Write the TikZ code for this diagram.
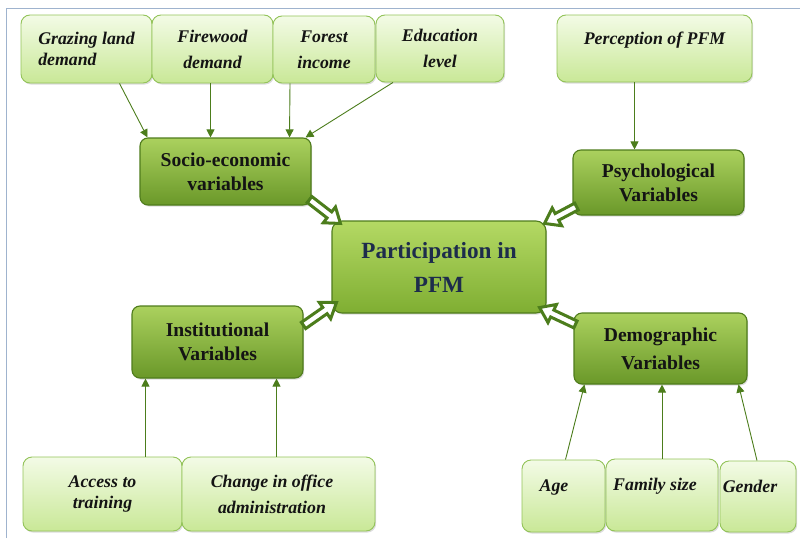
\documentclass[tikz,border=0pt]{standalone}
\usepackage{fontspec}
\setmainfont{Liberation Serif}
\usetikzlibrary{calc,shadows,arrows.meta}
\definecolor{leaftop}{HTML}{F3FBE6}
\definecolor{leafbot}{HTML}{C9E897}
\definecolor{leafline}{HTML}{93C359}
\definecolor{darktop}{HTML}{ABD15E}
\definecolor{darkbot}{HTML}{6A9829}
\definecolor{darkline}{HTML}{4F7C1C}
\definecolor{midtop}{HTML}{B4D964}
\definecolor{midbot}{HTML}{7FAE32}
\definecolor{arrowgreen}{HTML}{4C7D1C}
\definecolor{framecol}{HTML}{9FB3CE}
\definecolor{navytext}{HTML}{1D2C4C}
\newcommand\fatarrow[2]{%
  \coordinate (fa-c) at ($(#2)!14pt!(#1)$);
  \draw[hollowarrow]
    ($(#1)!3.8pt!90:(#2)$) -- ($(fa-c)!3.8pt!90:(#2)$) -- ($(fa-c)!10pt!90:(#2)$) --
    (#2) -- ($(fa-c)!10pt!-90:(#2)$) -- ($(fa-c)!3.8pt!-90:(#2)$) --
    ($(#1)!3.8pt!-90:(#2)$) -- cycle;}
\begin{document}
\begin{tikzpicture}[x=1pt,y=-1pt,
  shadowed/.style={drop shadow={shadow xshift=1.2pt, shadow yshift=-1.6pt, opacity=0.28}},
  leaf/.style={shadowed, draw=leafline, line width=0.9pt, rounded corners=9pt,
    top color=leaftop, bottom color=leafbot, inner sep=0pt, align=center,
    font=\fontsize{17.8}{21}\selectfont\bfseries\itshape, text=black!92},
  var/.style={shadowed, draw=darkline, line width=1.1pt, rounded corners=8pt,
    top color=darktop, bottom color=darkbot, inner sep=0pt, align=center,
    font=\fontsize{19.6}{24}\selectfont\bfseries, text=black!92},
  core/.style={shadowed, draw=darkline, line width=1.1pt, rounded corners=10pt,
    top color=midtop, bottom color=midbot, inner sep=0pt, align=center,
    font=\fontsize{23.2}{34}\selectfont\bfseries, text=navytext},
  thin/.style={draw=arrowgreen, line width=0.9pt, -{Triangle[length=8pt,width=8pt]}},
  hollowarrow/.style={draw=arrowgreen, line width=3pt, fill=white, line join=miter}
]
\useasboundingbox (0,0) rectangle (800,538);
\draw[framecol, line width=1pt] (6,538) -- (6,8) -- (800,8);

% top row
\node[leaf, minimum width=131pt, minimum height=68pt, align=left] (graz) at (86.5,49) {Grazing land\\demand};
\node[leaf, minimum width=121pt, minimum height=68pt] (fire) at (212.5,49) {Firewood\\[5pt]demand};
\node[leaf, minimum width=102pt, minimum height=67pt] (forest) at (324,49.5) {Forest\\[5pt]income};
\node[leaf, minimum width=128pt, minimum height=67pt] (edu) at (440,48.5) {Education\\[5pt]level};
\node[leaf, minimum width=195pt, minimum height=67pt] (perc) at (654.5,48.5) {Perception of PFM\\\mbox{}};

% variable boxes
\node[var, minimum width=171pt, minimum height=67pt] (socio) at (225.5,171.5) {Socio-economic\\variables};
\node[var, minimum width=171pt, minimum height=65pt] (psych) at (658.5,182.5) {Psychological\\Variables};
\node[core, minimum width=214pt, minimum height=92pt] (part) at (439,267) {Participation in\\PFM};
\node[var, minimum width=171pt, minimum height=72pt] (inst) at (217.5,342) {Institutional\\Variables};
\node[var, minimum width=173pt, minimum height=71pt] (demo) at (660.5,348.5) {Demographic\\[4pt]Variables};

% bottom row
\node[leaf, minimum width=159pt, minimum height=74pt] (access) at (102.5,494) {Access to\\training};
\node[leaf, minimum width=193pt, minimum height=74pt] (change) at (278.5,494) {Change in office\hspace*{13pt}\\[5pt]administration\hspace*{13pt}};
\node[leaf, minimum width=83pt, minimum height=72pt] (age) at (563.5,496) {Age\hspace*{19pt}\\\mbox{}};
\node[leaf, minimum width=112pt, minimum height=72pt] (family) at (662,495) {Family size\hspace*{14pt}\\\mbox{}};
\node[leaf, minimum width=76pt, minimum height=71pt] (gender) at (758,496.5) {Gender\hspace*{16pt}\\\mbox{}};

% thin connectors
\draw[thin] ([xshift=33pt]graz.south) -- ([xshift=-78pt]socio.north);
\draw[thin] ([xshift=-2pt]fire.south) -- ([xshift=-15pt]socio.north);
\draw[thin] ([xshift=-34pt]forest.south) -- ([xshift=64pt]socio.north);
\draw[thin] ([xshift=-47pt]edu.south) -- ([xshift=80pt]socio.north);
\draw[thin] ([xshift=-20pt]perc.south) -- ([xshift=-24pt]psych.north);
\draw[thin] ([xshift=43pt]access.north) -- ([xshift=-72pt]inst.south);
\draw[thin] ([xshift=-2pt]change.north) -- ([xshift=59pt]inst.south);
\draw[thin] ([xshift=2pt]age.north) -- ([xshift=-76pt]demo.south);
\draw[thin] (family.north) -- ([xshift=1.5pt]demo.south);
\draw[thin] ([xshift=-1pt]gender.north) -- ([xshift=78pt]demo.south);

% hollow block arrows
\coordinate (s1) at ([shift={(-2pt,6pt)}]socio.south east);
\coordinate (e1) at ([shift={(9pt,-3pt)}]part.north west);
\fatarrow{s1}{e1}
\coordinate (s2) at ([shift={(4pt,9pt)}]psych.south west);
\coordinate (e2) at ([shift={(-2pt,-3pt)}]part.north east);
\fatarrow{s2}{e2}
\coordinate (s3) at ([shift={(0pt,-20pt)}]inst.north east);
\coordinate (e3) at ([shift={(5pt,11pt)}]part.south west);
\fatarrow{s3}{e3}
\coordinate (s4) at ([shift={(2pt,-12pt)}]demo.north west);
\coordinate (e4) at ([shift={(-7pt,6pt)}]part.south east);
\fatarrow{s4}{e4}
\end{tikzpicture}
\end{document}
